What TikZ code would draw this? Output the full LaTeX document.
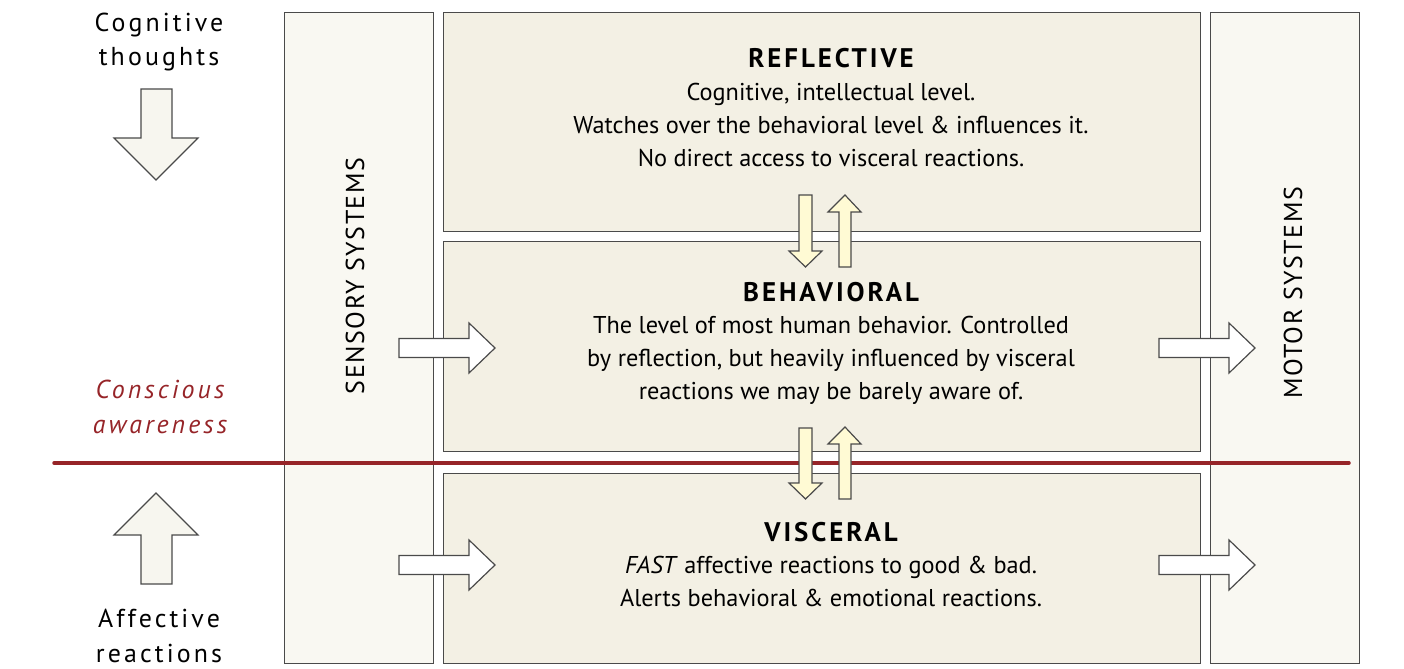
\documentclass[tikz,border=0pt]{standalone}
\usepackage{fontspec}
\setmainfont{PT Sans}
\newfontfamily\spaced[LetterSpace=12]{PT Sans}
\newfontfamily\ttlfont[LetterSpace=11]{PT Sans Bold}
\newfontfamily\sidefont[LetterSpace=6]{PT Sans}
\definecolor{mainfill}{HTML}{F3F0E4}
\definecolor{sidefill}{HTML}{F9F8F2}
\definecolor{leftfill}{HTML}{F7F6EF}
\definecolor{midfill}{HTML}{FFFAD4}
\definecolor{edge}{HTML}{4A4A4A}
\definecolor{darkred}{HTML}{962428}
\begin{document}
\begin{tikzpicture}[x=1bp,y=-1bp,
  box/.style={draw=edge,line width=1.3bp,anchor=north west,inner sep=0pt,rectangle},
  mainbox/.style={box,fill=mainfill,minimum width=757bp},
  sidebox/.style={box,fill=sidefill,minimum width=149bp,minimum height=651bp},
  txt/.style={font=\fontsize{24.4}{33}\selectfont,align=center,inner sep=0pt},
  ttl/.style={font=\fontsize{27}{33}\selectfont\ttlfont,inner sep=0pt},
  sidetxt/.style={font=\fontsize{26}{33}\selectfont\sidefont,rotate=90,inner sep=0pt},
  lefttxt/.style={font=\fontsize{26}{35}\selectfont\spaced,align=center,inner sep=0pt},
  arr/.style={draw=edge,line width=1.2bp,line join=miter},
]
\useasboundingbox (0,0) rectangle (1404,669);
% side boxes
\node[sidebox] (sens) at (284,12) {};
\node[sidebox] (motor) at (1210,12) {};
% main boxes
\node[mainbox,minimum height=219bp] (refl) at (443,12) {};
\node[mainbox,minimum height=210bp] (behav) at (443,241) {};
\node[mainbox,minimum height=190bp] (visc) at (443,473) {};
% red line
\draw[darkred,line width=3.5bp,line cap=round] (54,463) -- (1349,463);
% side labels
\node[sidetxt] (senst) at (355,276) {SENSORY SYSTEMS};
\node[sidetxt] (motort) at (1293,293) {MOTOR SYSTEMS};
% main texts
\node[ttl] (reflt) at (831,58) {REFLECTIVE};
\node[txt,anchor=north] (reflb) at (831,83) {Cognitive, intellectual level.\\Watches over the behavioral level \& influences it.\\No direct access to visceral reactions.};
\node[ttl] (behavt) at (831,292) {BEHAVIORAL};
\node[txt,anchor=north] (behavb) at (831,316) {The level of most human behavior. Controlled\\by reflection, but heavily influenced by visceral\\reactions we may be barely aware of.};
\node[ttl] (visct) at (831,532) {VISCERAL};
\node[txt,anchor=north] (viscb) at (831,556) {\textit{FAST} affective reactions to good \& bad.\\Alerts behavioral \& emotional reactions.};
% left texts
\node[lefttxt] (cog) at (159,42) {Cognitive\\thoughts};
\node[lefttxt,text=darkred,font=\fontsize{26}{35}\selectfont\spaced\itshape] (consc) at (160,407) {Conscious\\awareness};
\node[lefttxt] (aff) at (159,636) {Affective\\reactions};
% left big arrows
\draw[arr,fill=leftfill] (141,89) -- (172,89) -- (172,138) -- (198,138) -- (156,180) -- (114,138) -- (141,138) -- cycle;
\draw[arr,fill=leftfill] (141,584) -- (172,584) -- (172,535) -- (198,535) -- (156,493) -- (114,535) -- (141,535) -- cycle;
% vertical arrows between main boxes
\draw[arr,fill=midfill] (799,195) -- (812,195) -- (812,251) -- (822,251) -- (805.5,267) -- (789,251) -- (799,251) -- cycle;
\draw[arr,fill=midfill] (839,267) -- (851,267) -- (851,212) -- (861,212) -- (845,195) -- (828,212) -- (839,212) -- cycle;
\draw[arr,fill=midfill] (799,428) -- (812,428) -- (812,483) -- (822,483) -- (805.5,499) -- (789,483) -- (799,483) -- cycle;
\draw[arr,fill=midfill] (839,499) -- (851,499) -- (851,444) -- (861,444) -- (845,427) -- (828,444) -- (839,444) -- cycle;
% horizontal arrows
\foreach \x/\y in {399/348, 1159/348, 399/565, 1159/565}{
  \draw[arr,fill=white] (\x,\y-9.5) -- (\x+70,\y-9.5) -- (\x+70,\y-25) -- (\x+96,\y) -- (\x+70,\y+25) -- (\x+70,\y+9.5) -- (\x,\y+9.5) -- cycle;
}
\end{tikzpicture}
\end{document}
